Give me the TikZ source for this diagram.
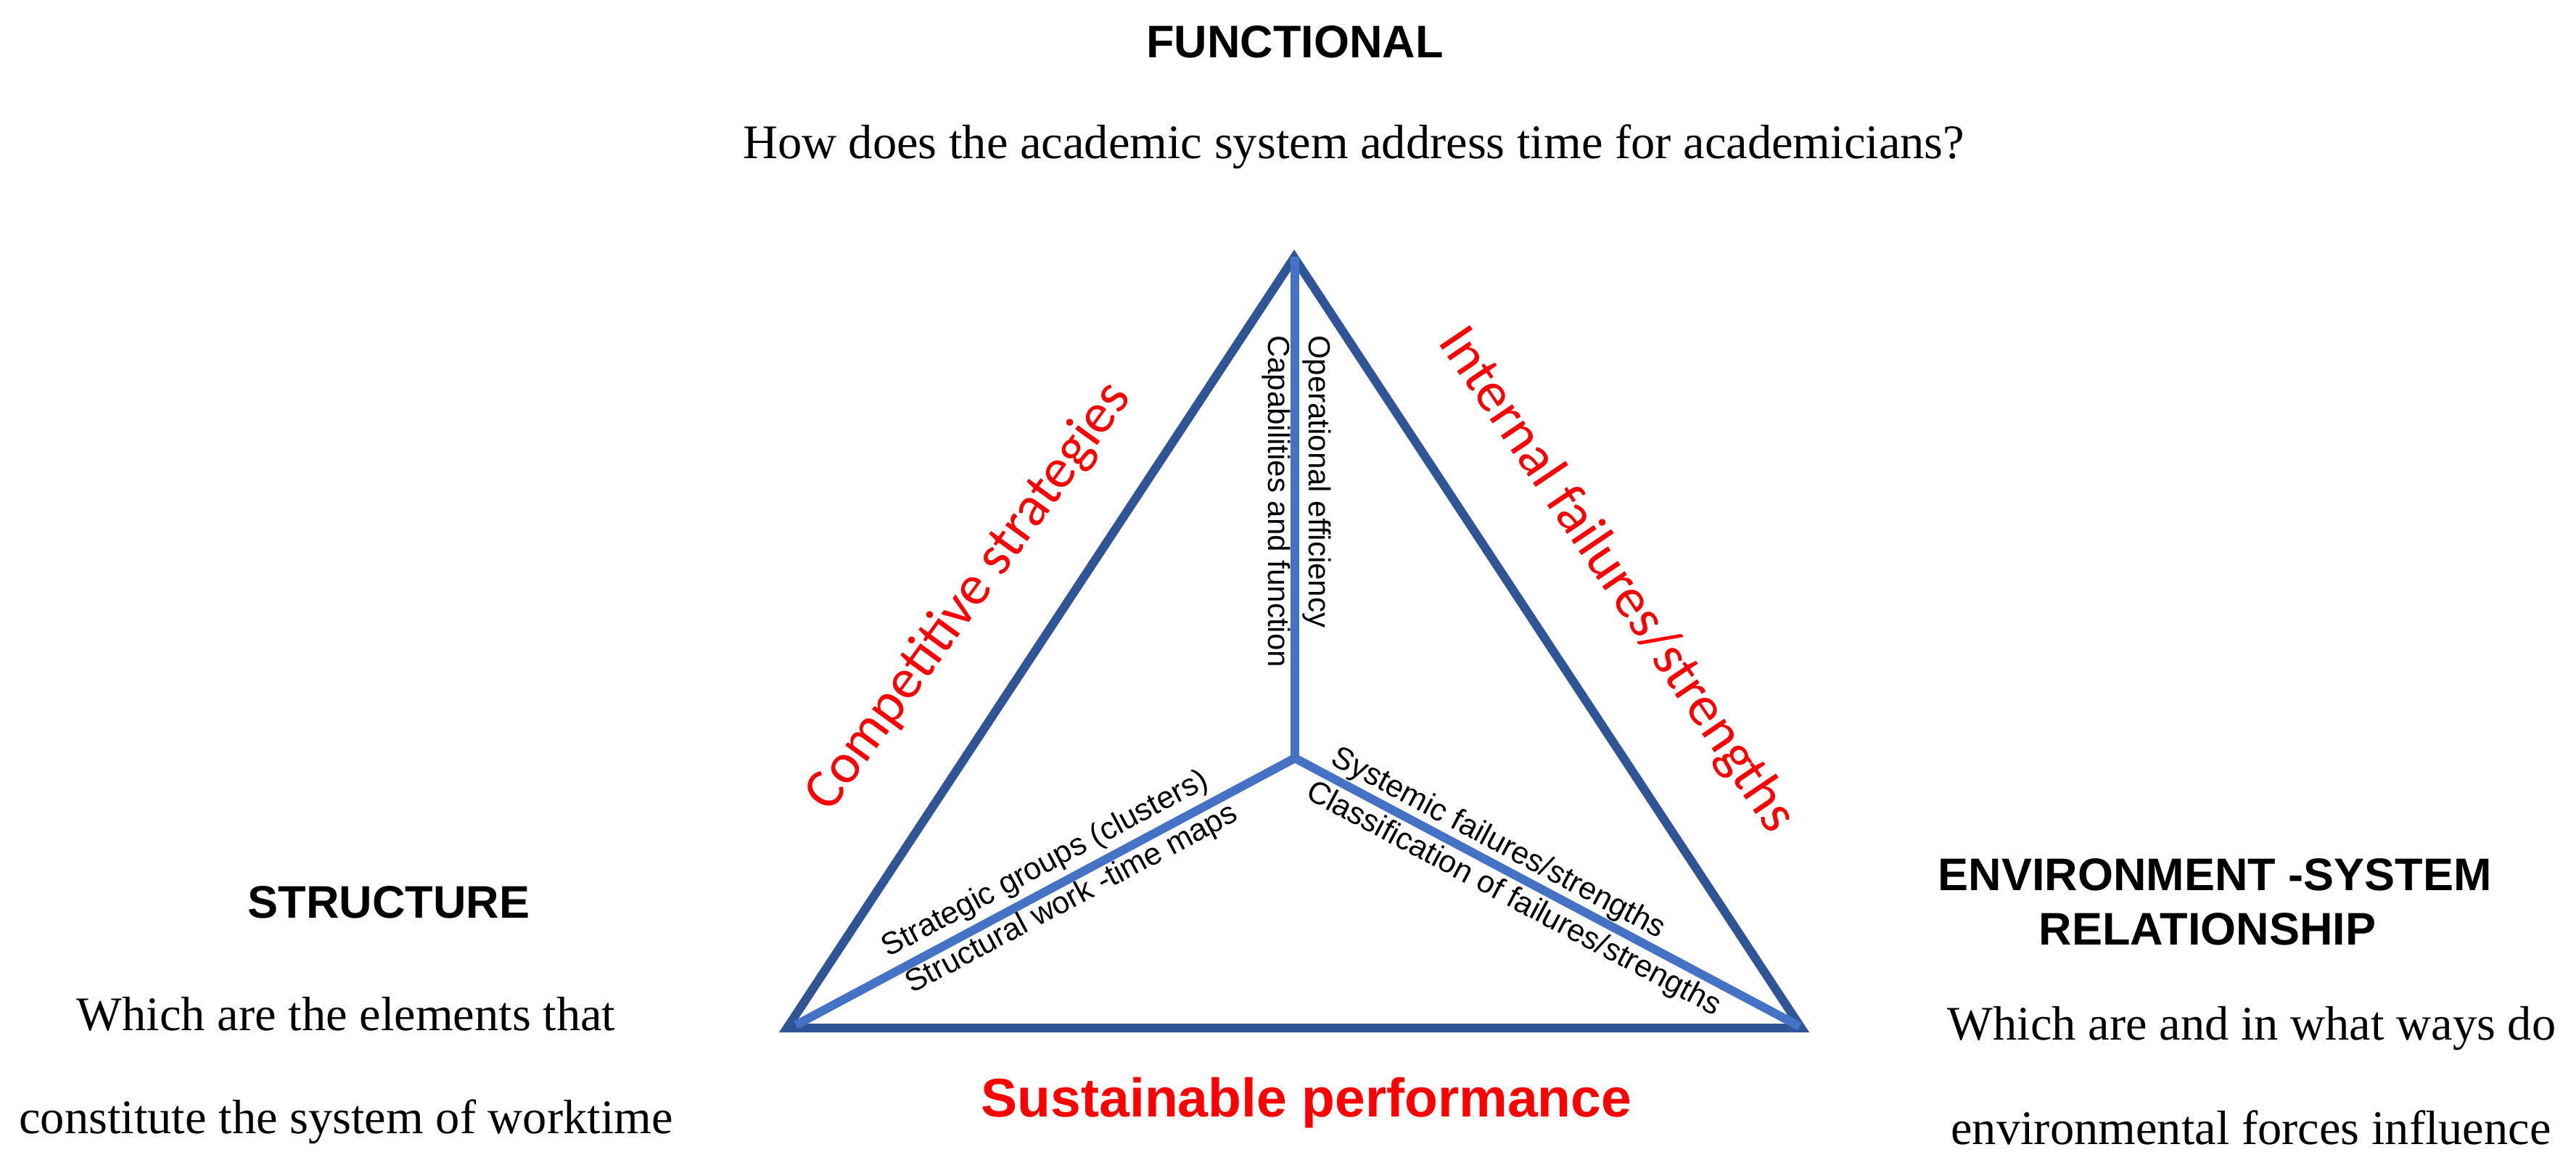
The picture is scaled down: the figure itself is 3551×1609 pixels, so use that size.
\documentclass[tikz,border=0pt]{standalone}
\usepackage{fontspec}
\setmainfont{Liberation Serif}
\setsansfont{Liberation Sans}
\newfontfamily\calib{Carlito}
\definecolor{outerblue}{HTML}{2F5597}
\definecolor{innerblue}{HTML}{4472C4}
\definecolor{labred}{HTML}{FF0000}
\begin{document}
\begin{tikzpicture}[x=1pt,y=-1pt,
  outer/.style={draw=outerblue, line width=12pt, line join=miter},
  inner/.style={draw=innerblue, line width=12pt, line join=miter},
  head/.style={font=\sffamily\bfseries\fontsize{63}{75}\selectfont, inner sep=0pt, anchor=base},
  question/.style={font=\rmfamily\fontsize{66.5}{80}\selectfont, inner sep=0pt, anchor=base},
  redlab/.style={font=\calib\fontsize{78}{90}\selectfont, text=labred, inner sep=0pt},
  smalllab/.style={font=\sffamily\fontsize{43}{50}\selectfont, inner sep=0pt},
]
\useasboundingbox[fill=white] (0,0) rectangle (3551,1609);

% triangle corners
\coordinate (A) at (1784,355);
\coordinate (BL) at (1085,1417);
\coordinate (BR) at (2483,1417);
% inner star
\coordinate (J) at (1785,1045);
\coordinate (Atop) at (1785,354);
\coordinate (BLi) at (1097,1413);
\coordinate (BRi) at (2481,1415);

\draw[outer] (A) -- (BL) -- (BR) -- cycle;
\draw[inner] (Atop) -- (J);
\draw[inner] (BLi) -- (J) -- (BRi);

% headings and questions
\node[head] (func) at (1785,79) {FUNCTIONAL};
\node[question] (funcq) at (1866,218) {How does the academic system address time for academicians?};

\node[head] (struct) at (536,1265) {STRUCTURE};
\node[question] (structq1) at (477,1420) {Which are the elements that};
\node[question] (structq2) at (477,1562) {constitute the system of worktime};

\node[head] (env1) at (3053,1227) {ENVIRONMENT -SYSTEM};
\node[head] (env2) at (3043,1302) {RELATIONSHIP};
\node[question] (envq1) at (3104,1433) {Which are and in what ways do};
\node[question] (envq2) at (3103,1577) {environmental forces influence};

\node[head, font=\sffamily\bfseries\fontsize{75}{85}\selectfont, text=labred] (sust) at (1801,1539) {Sustainable performance};

% red side labels
\node[redlab, rotate=54] (comp) at (1336,823) {Competitive strategies};
\node[redlab, rotate=-56] (intl) at (2228,800) {Internal failures/strengths};

% labels along the inner lines
\node[smalllab, font=\sffamily\fontsize{42}{50}\selectfont, rotate=-90, anchor=base west] (oper) at (1804,462) {Operational efficiency};
\node[smalllab, font=\sffamily\fontsize{42}{50}\selectfont, rotate=-90, anchor=base west] (capa) at (1748,462) {Capabilities and function};

\node[smalllab, rotate=28] (strat) at (1441,1192) {Strategic groups (clusters)};
\node[smalllab, rotate=28] (smaps) at (1478,1240) {Structural work -time maps};
\node[smalllab, rotate=-28] (syst) at (2065,1163) {Systemic failures/strengths};
\node[smalllab, rotate=-28] (clas) at (2086,1240) {Classification of failures/strengths};
\end{tikzpicture}
\end{document}
